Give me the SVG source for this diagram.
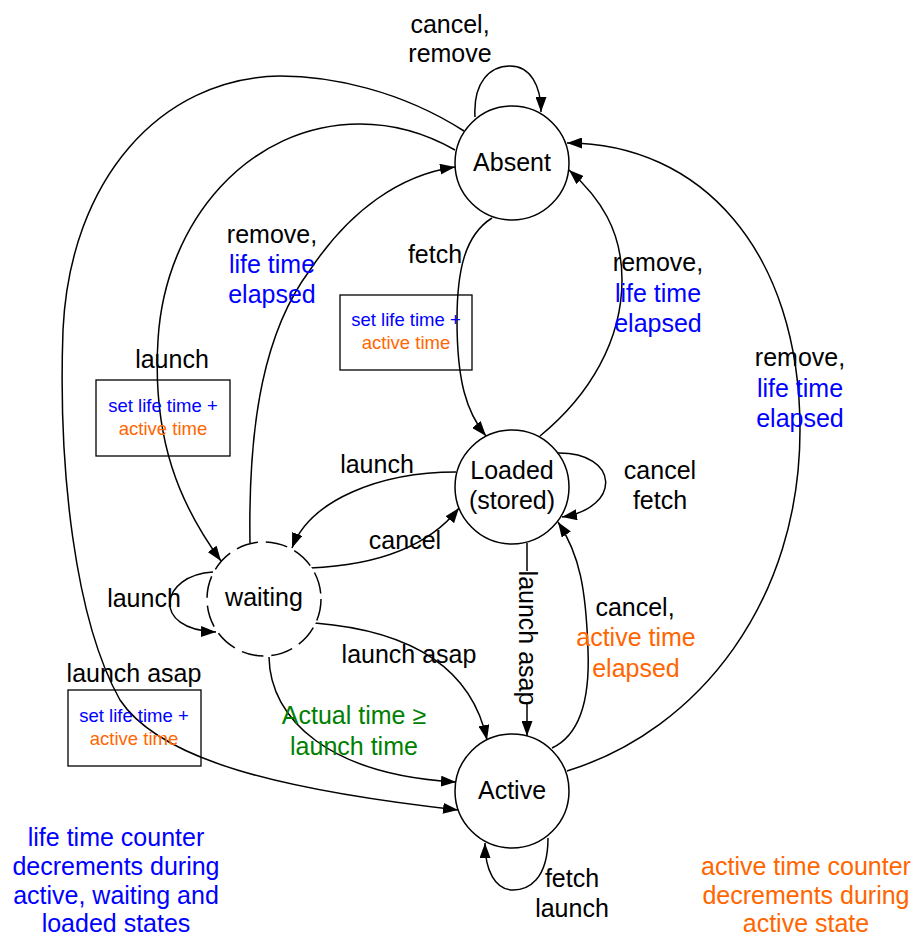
<svg xmlns="http://www.w3.org/2000/svg" width="915" height="938" viewBox="0 0 915 938">
<style>
text{font-family:"Liberation Sans",Arial,sans-serif;font-size:25px;fill:#000;text-anchor:middle}
.b{fill:#0000FF}
.o{fill:#FF6600}
.g{fill:#008000}
.s{font-size:18.5px}
.node{fill:#fff;stroke:#000;stroke-width:1.5}
.dash{stroke-dasharray:22,8}
.box{fill:none;stroke:#000;stroke-width:1.3}
.e{fill:none;stroke:#000;stroke-width:1.5;marker-end:url(#ah)}
</style>
<defs>
<marker id="ah" markerUnits="userSpaceOnUse" markerWidth="15" markerHeight="11" refX="15" refY="5.5" orient="auto">
<path d="M0,0 L15,5.5 L0,11 z" fill="#000"/>
</marker>
</defs>
<rect width="915" height="938" fill="#fff"/>
<g id="connectors">
<path class="e" d="M475,117 C473,82 490,66 510,66 C530,66 541,85 541,112"/>
<path class="e" d="M464,131 C400,90 330,76 280,76 C160,78 70,180 63,330 C58,470 75,620 120,700 C160,760 280,790 458,810"/>
<path class="e" d="M455,150 C420,130 390,124 360,124 C250,124 165,220 158,340 C152,440 180,505 221,561"/>
<path class="e" d="M250,543 C248,420 265,330 310,270 C350,210 400,175 455,167"/>
<path class="e" d="M492,218 C465,235 457,270 457,320 C457,380 466,412 486,436"/>
<path class="e" d="M540,436 C590,395 622,340 622,280 C622,230 600,198 569,170"/>
<path class="e" d="M567,771 C700,730 800,600 800,430 C800,250 700,143 567,143"/>
<path class="e" d="M557,453 C620,452 622,508 562,517"/>
<path class="e" d="M456,472 C380,472 310,500 292,548"/>
<path class="e" d="M310,568 C380,565 430,545 459,508"/>
<path class="e" d="M527,543 L527,736"/>
<path class="e" d="M552,748 C580,735 590,700 588,650 C586,590 580,555 558,522"/>
<path class="e" d="M315,623 C400,630 470,660 487,740"/>
<path class="e" d="M269,657 C270,720 330,775 456,782"/>
<path class="e" d="M213,572 C160,575 150,630 216,632"/>
<path class="e" d="M548,838 C548,880 528,890 513,890 C495,890 485,870 485,843"/>
</g>
<g id="absent">
<circle class="node" cx="512" cy="163" r="57"/>
<text x="512" y="171">Absent</text>
</g>
<g id="loaded">
<circle class="node" cx="512" cy="487" r="57"/>
<text x="512" y="479">Loaded</text>
<text x="512" y="509">(stored)</text>
</g>
<g id="active">
<circle class="node" cx="512" cy="791" r="57"/>
<text x="512" y="799">Active</text>
</g>
<g id="waiting">
<circle class="node dash" cx="264" cy="599" r="57"/>
<text x="264" y="606">waiting</text>
</g>
<g id="box-fetch">
<rect class="box" x="340" y="295" width="132" height="75"/>
<text class="s b" x="406" y="326">set life time +</text>
<text class="s o" x="406" y="349">active time</text>
</g>
<g id="box-launch">
<rect class="box" x="96" y="380" width="134" height="76"/>
<text class="s b" x="163" y="412">set life time +</text>
<text class="s o" x="163" y="435">active time</text>
</g>
<g id="box-launch-asap">
<rect class="box" x="68" y="690" width="133" height="76"/>
<text class="s b" x="134" y="722">set life time +</text>
<text class="s o" x="134" y="745">active time</text>
</g>
<g id="labels">
<text x="450" y="33">cancel,</text>
<text x="450" y="62">remove</text>
<text x="272" y="243">remove,</text>
<text class="b" x="272" y="273">life time</text>
<text class="b" x="272" y="303">elapsed</text>
<text x="435" y="263">fetch</text>
<text x="658" y="271">remove,</text>
<text class="b" x="658" y="302">life time</text>
<text class="b" x="658" y="332">elapsed</text>
<text x="800" y="366">remove,</text>
<text class="b" x="800" y="397">life time</text>
<text class="b" x="800" y="427">elapsed</text>
<text x="172" y="368">launch</text>
<text x="377" y="473">launch</text>
<text x="405" y="549">cancel</text>
<text x="660" y="479">cancel</text>
<text x="660" y="509">fetch</text>
<text x="144" y="607">launch</text>
<rect x="517" y="571" width="21" height="133" fill="#fff"/>
<text x="0" y="0" transform="translate(519,638) rotate(90)">launch asap</text>
<text x="635" y="616">cancel,</text>
<text class="o" x="636" y="646">active time</text>
<text class="o" x="636" y="677">elapsed</text>
<text x="409" y="663">launch asap</text>
<text x="134" y="682">launch asap</text>
<text class="g" x="354" y="724">Actual time ≥</text>
<text class="g" x="354" y="755">launch time</text>
<text x="572" y="887">fetch</text>
<text x="572" y="917">launch</text>
<text class="b" x="116" y="846">life time counter</text>
<text class="b" x="116" y="875">decrements during</text>
<text class="b" x="116" y="904">active, waiting and</text>
<text class="b" x="116" y="932">loaded states</text>
<text class="o" x="806" y="875">active time counter</text>
<text class="o" x="806" y="904">decrements during</text>
<text class="o" x="806" y="932">active state</text>
</g>
</svg>
